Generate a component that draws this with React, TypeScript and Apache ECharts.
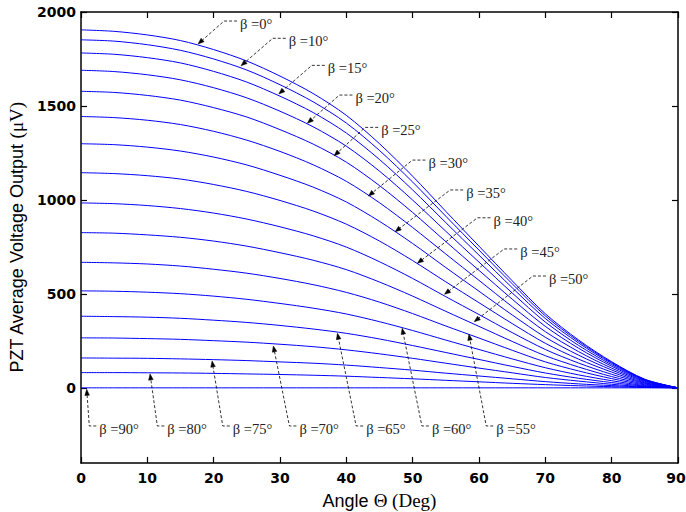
import React, { useEffect, useRef } from "react";
import * as echarts from "echarts";

// Angle Θ (deg) sample positions
const theta = [0, 5, 10, 15, 20, 25, 30, 35, 40, 45, 50, 55, 60, 65, 70, 75, 80, 85, 90];

// PZT average voltage output (µV), one array per β
const beta0 = [1905, 1897, 1878, 1848, 1800, 1739, 1659, 1566, 1450, 1299, 1126, 939, 754, 570, 394, 255, 139, 46, 0];
const beta10 = [1852, 1845, 1826, 1796, 1750, 1691, 1613, 1522, 1409, 1263, 1095, 913, 733, 554, 383, 248, 135, 44, 0];
const beta15 = [1782, 1775, 1757, 1729, 1684, 1627, 1552, 1465, 1356, 1215, 1053, 879, 706, 533, 369, 239, 130, 43, 0];
const beta20 = [1690, 1683, 1666, 1639, 1597, 1543, 1472, 1389, 1286, 1153, 999, 833, 669, 505, 350, 226, 123, 41, 0];
const beta25 = [1578, 1572, 1556, 1531, 1491, 1441, 1374, 1297, 1201, 1076, 933, 778, 625, 472, 327, 211, 115, 38, 0];
const beta30 = [1444, 1438, 1424, 1401, 1365, 1318, 1258, 1187, 1099, 985, 853, 712, 572, 432, 299, 193, 105, 35, 0];
const beta35 = [1299, 1294, 1281, 1260, 1228, 1186, 1131, 1068, 989, 886, 768, 640, 514, 388, 269, 174, 95, 31, 0];
const beta40 = [1145, 1140, 1129, 1111, 1082, 1045, 997, 941, 871, 781, 677, 564, 453, 342, 237, 153, 84, 27, 0];
const beta45 = [984, 980, 970, 954, 930, 898, 857, 809, 749, 671, 582, 485, 390, 294, 204, 132, 72, 24, 0];
const beta50 = [826, 823, 814, 801, 781, 754, 719, 679, 629, 563, 488, 407, 327, 247, 171, 111, 60, 20, 0];
const beta55 = [668, 665, 659, 648, 631, 610, 582, 549, 508, 456, 395, 329, 265, 200, 138, 90, 49, 16, 0];
const beta60 = [516, 514, 509, 501, 488, 471, 449, 424, 393, 352, 305, 254, 204, 154, 107, 69, 38, 12, 0];
const beta65 = [381, 379, 376, 370, 360, 348, 332, 313, 290, 260, 225, 188, 151, 114, 79, 51, 28, 9, 0];
const beta70 = [266, 265, 262, 258, 251, 243, 232, 219, 202, 181, 157, 131, 105, 80, 55, 36, 19, 6, 0];
const beta75 = [159, 158, 157, 154, 150, 145, 138, 131, 121, 108, 94, 78, 63, 48, 33, 21, 12, 4, 0];
const beta80 = [81, 81, 80, 79, 77, 74, 71, 67, 62, 55, 48, 40, 32, 24, 17, 11, 6, 2, 0];
const beta90 = [0, 0, 0, 0, 0, 0, 0, 0, 0, 0, 0, 0, 0, 0, 0, 0, 0, 0, 0];

const curves = [beta0, beta10, beta15, beta20, beta25, beta30, beta35, beta40, beta45, beta50, beta55, beta60, beta65, beta70, beta75, beta80, beta90];
const betaNames = ["0", "10", "15", "20", "25", "30", "35", "40", "45", "50", "55", "60", "65", "70", "75", "80", "90"];

// tick values
const yTicks = [0, 500, 1000, 1500, 2000];

// annotations (data coordinates): arrow tip on curve, elbow of the dashed leader
const upperLabels = ["0", "10", "15", "20", "25", "30", "35", "40", "45", "50"];
const upperTips = [[17.65, 1830], [24.13, 1714], [29.82, 1564], [34.13, 1408], [38.16, 1235], [43.33, 1021], [47.36, 831], [50.72, 663], [54.8, 498], [59.28, 352]];
const upperElbows = [[21.57, 1952], [28.91, 1860], [34.8, 1716], [38.96, 1558], [42.84, 1386], [49.97, 1212], [55.66, 1053], [59.77, 905], [63.8, 739], [68.13, 595]];

const lowerLabels = ["90", "80", "75", "70", "65", "60", "55"];
const lowerTips = [[0.86, -8], [10.41, 74], [19.76, 143], [29.0, 223], [38.66, 290], [48.42, 317], [58.48, 285]];
const lowerElbows = [[1.25, -203], [11.51, -203], [21.37, -203], [31.42, -203], [41.48, -203], [51.39, -203], [61.09, -203]];

const SANS = "'Liberation Sans', Arial, Helvetica, sans-serif";
const BOLD = "'DejaVu Sans', 'Liberation Sans', sans-serif";
const SERIF = "'Liberation Serif', 'Times New Roman', serif";

export default function App() {
  const ref = useRef<HTMLDivElement>(null);

  useEffect(() => {
    document.body.style.margin = "0";
    if (!ref.current) return;
    const chart = echarts.init(ref.current, undefined, { renderer: "svg" });

    const axisLine = { show: true, onZero: false, lineStyle: { color: "#000", width: 1.5 } };
    const tickStyle = { show: true, inside: true, length: 6, lineStyle: { color: "#000", width: 1.2 } };
    const labelStyle = {
      color: "#000",
      fontFamily: BOLD,
      fontWeight: 700,
      fontSize: 14,
      formatter: (v: number) => String(v),
    };

    chart.setOption({
      animation: false,
      backgroundColor: "#fff",
      grid: { left: 81, right: 8, top: 12, bottom: 49, containLabel: false, outerBoundsMode: "none" },
      xAxis: [
        {
          type: "value",
          position: "bottom",
          min: 0,
          max: 90,
          interval: 10,
          axisLine,
          axisTick: tickStyle,
          splitLine: { show: false },
          axisLabel: {
            ...labelStyle,
            margin: 8,
            formatter: (v: number) => (v === 90 ? "{m|90}" : String(v)),
            rich: {
              m: { fontFamily: BOLD, fontWeight: 700, fontSize: 14, color: "#000", padding: [0, 4, 0, 0] },
            },
          },
          name: "{s|Angle }{r|Θ (Deg)}",
          nameLocation: "middle",
          nameGap: 28,
          nameTextStyle: {
            rich: {
              s: { fontFamily: SANS, fontSize: 18, color: "#000" },
              r: { fontFamily: SERIF, fontSize: 19, color: "#000" },
            },
          },
        },
        {
          type: "value",
          position: "top",
          min: 0,
          max: 90,
          interval: 10,
          axisLine,
          axisTick: tickStyle,
          splitLine: { show: false },
          axisLabel: { show: false },
        },
      ],
      yAxis: [
        {
          type: "value",
          position: "left",
          min: -400,
          max: 2000,
          axisLine,
          axisTick: { ...tickStyle, customValues: yTicks },
          splitLine: { show: false },
          axisLabel: { ...labelStyle, margin: 5, customValues: yTicks },
          name: "{s|PZT Average Voltage Output }{r|(μV)}",
          nameLocation: "middle",
          nameGap: 55,
          nameTextStyle: {
            rich: {
              s: { fontFamily: SANS, fontSize: 18, color: "#000" },
              r: { fontFamily: SERIF, fontSize: 19, color: "#000" },
            },
          },
        },
        {
          type: "value",
          position: "right",
          min: -400,
          max: 2000,
          axisLine,
          axisTick: { ...tickStyle, customValues: yTicks },
          splitLine: { show: false },
          axisLabel: { show: false },
        },
      ],
      series: curves.map((vals, i) => ({
        name: "β =" + betaNames[i] + "°",
        type: "line",
        xAxisIndex: 0,
        yAxisIndex: 0,
        data: vals.map((v, j) => [theta[j], v]),
        showSymbol: false,
        smooth: 0.3,
        lineStyle: { color: "#0000ff", width: 1 },
        z: 2,
      })),
    });

    const px = (p: number[]) => chart.convertToPixel({ xAxisIndex: 0, yAxisIndex: 0 }, p) as number[];
    const graphics: any[] = [];
    const addNote = (label: string, tipD: number[], elbowD: number[], dashLen: number) => {
      const T = px(tipD);
      const E = px(elbowD);
      const dx = T[0] - E[0];
      const dy = T[1] - E[1];
      const len = Math.sqrt(dx * dx + dy * dy) || 1;
      const ux = dx / len;
      const uy = dy / len;
      const L = 6;
      const W = 2.3;
      const B = [T[0] - ux * L, T[1] - uy * L];
      const nx = -uy;
      const ny = ux;
      const H = [E[0] + dashLen, E[1]];
      graphics.push({
        type: "polyline",
        shape: { points: [H, E, B] },
        style: { stroke: "#000", lineWidth: 0.8, lineDash: [3, 2], fill: null },
        silent: true,
        z: 10,
      });
      graphics.push({
        type: "polygon",
        shape: { points: [T, [B[0] + nx * W, B[1] + ny * W], [B[0] - nx * W, B[1] - ny * W]] },
        style: { fill: "#000", stroke: "#000", lineWidth: 0.5 },
        silent: true,
        z: 10,
      });
      graphics.push({
        type: "text",
        x: H[0] + 3,
        y: E[1] + 3,
        style: {
          text: "β =" + label + "°",
          fontFamily: SERIF,
          fontSize: 14.5,
          fill: "#222",
          verticalAlign: "middle",
          align: "left",
        },
        silent: true,
        z: 10,
      });
    };
    upperLabels.forEach((l, i) => addNote(l, upperTips[i], upperElbows[i], 13));
    lowerLabels.forEach((l, i) => addNote(l, lowerTips[i], lowerElbows[i], 7));
    chart.setOption({ graphic: graphics });

    return () => chart.dispose();
  }, []);

  return <div ref={ref} style={{ width: 686, height: 512 }} />;
}
